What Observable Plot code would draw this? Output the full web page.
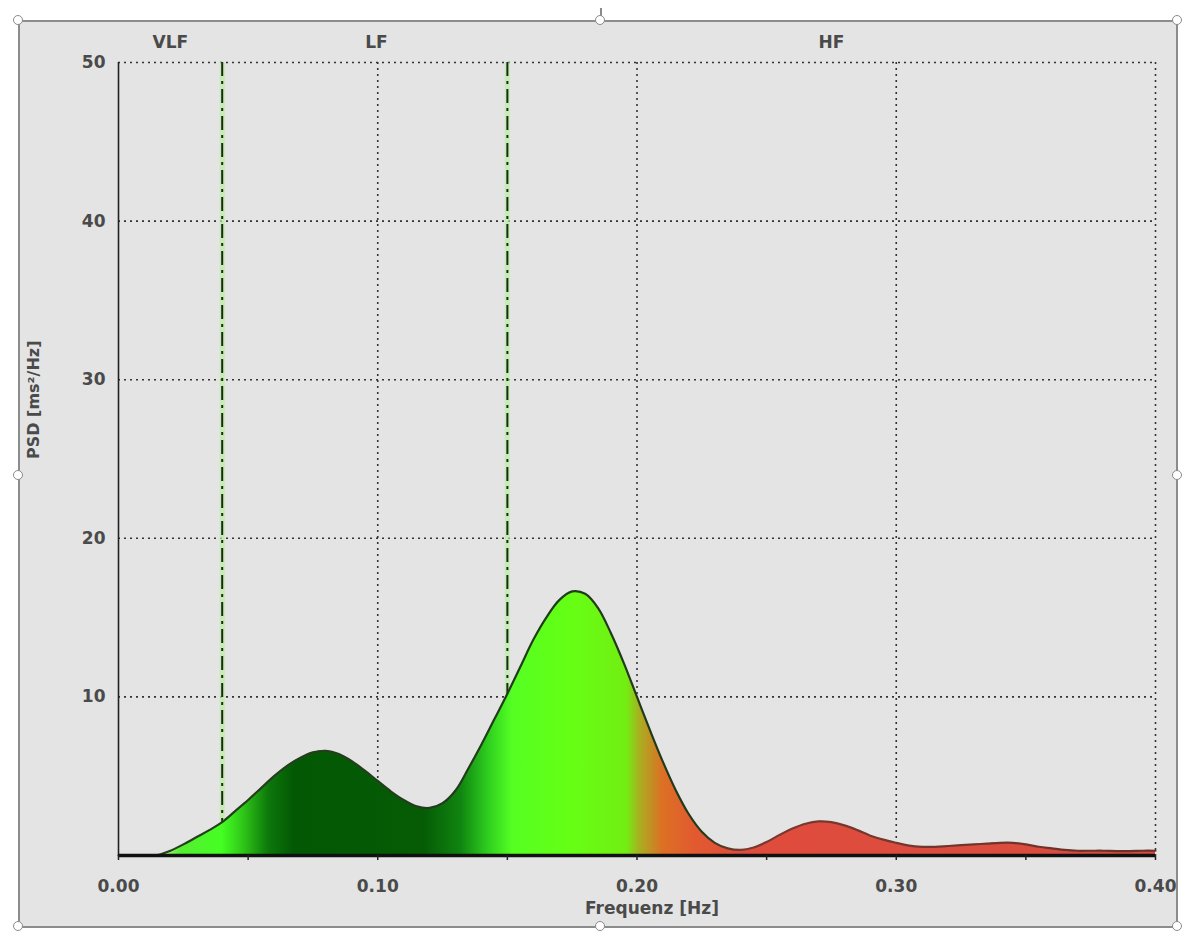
<!DOCTYPE html>
<html><head><meta charset="utf-8">
<script src="https://cdn.jsdelivr.net/npm/d3@7"></script>
<script src="https://cdn.jsdelivr.net/npm/@observablehq/plot@0.6"></script>
<style>
html,body{margin:0;padding:0;background:#fff;width:1186px;height:935px;overflow:hidden;font-family:"DejaVu Sans",sans-serif;}
#frame{position:absolute;left:18px;top:20px;width:1156px;height:904px;background:#e4e4e4;border:2px solid #8c8c8c;}
.h{position:absolute;width:8px;height:8px;border:1.5px solid #8a8a8a;border-radius:50%;background:#fff;}
#rot{position:absolute;left:600px;top:8px;width:1.5px;height:12px;background:#8a8a8a;}
</style></head><body>
<div id="rot"></div>
<div id="frame"></div>
<div class="h" style="left:13px;top:15px"></div>
<div class="h" style="left:595px;top:15px"></div>
<div class="h" style="left:1172px;top:15px"></div>
<div class="h" style="left:13px;top:470px"></div>
<div class="h" style="left:1172px;top:470px"></div>
<div class="h" style="left:13px;top:921px"></div>
<div class="h" style="left:595px;top:921px"></div>
<div class="h" style="left:1172px;top:921px"></div>
<script>
// Frequency (Hz) and power spectral density (ms²/Hz)
const freq = [0,0.005,0.01,0.015,0.02,0.025,0.03,0.035,0.04,0.045,0.05,0.055,0.06,0.065,0.07,0.075,0.08,0.085,0.09,0.095,0.10,0.105,0.11,0.115,0.12,0.125,0.13,0.135,0.14,0.145,0.15,0.155,0.16,0.165,0.17,0.175,0.18,0.185,0.19,0.195,0.20,0.205,0.21,0.215,0.22,0.225,0.23,0.235,0.24,0.245,0.25,0.255,0.26,0.265,0.27,0.275,0.28,0.285,0.29,0.295,0.30,0.305,0.31,0.315,0.32,0.325,0.33,0.335,0.34,0.345,0.35,0.355,0.36,0.365,0.37,0.375,0.38,0.385,0.39,0.395,0.40];
const psd = [0,0,0,0.03,0.3,0.7,1.15,1.6,2.1,2.8,3.5,4.25,5.0,5.65,6.15,6.5,6.6,6.4,5.95,5.35,4.7,4.05,3.5,3.1,3.0,3.3,4.1,5.5,7.0,8.6,10.2,11.9,13.6,15.0,16.1,16.65,16.5,15.6,14.0,12.1,10.0,7.9,5.9,4.1,2.6,1.5,0.8,0.45,0.35,0.5,0.85,1.3,1.7,2.0,2.15,2.1,1.9,1.6,1.25,1.0,0.8,0.62,0.55,0.55,0.6,0.65,0.7,0.75,0.8,0.8,0.7,0.55,0.45,0.35,0.3,0.3,0.3,0.28,0.28,0.3,0.3];

const bandEdges = [0.04, 0.15];
const bandNames = ["VLF", "LF", "HF"];
const bandCenters = [0.02, 0.0995, 0.275];
const xTicksLabeled = [0, 0.1, 0.2, 0.3, 0.4];
const xTicksMinor = [0, 0.05, 0.1, 0.15, 0.2, 0.25, 0.3, 0.35, 0.4];
const yTicks = [10, 20, 30, 40, 50];

const data = freq.map((f, i) => ({f, p: psd[i]}));

// fill gradient stops: [frequency, colour]
const fillStops = [
  [0.000, "#eef2b8"], [0.014, "#d8f0a0"], [0.024, "#55ee33"], [0.040, "#44ff22"],
  [0.048, "#30c818"], [0.058, "#0c780a"], [0.068, "#035803"], [0.118, "#055c05"],
  [0.132, "#108410"], [0.143, "#2fd01f"], [0.152, "#55ff22"], [0.175, "#66ff14"],
  [0.196, "#72ee12"], [0.201, "#a8b020"], [0.210, "#dc7024"], [0.222, "#e25a30"],
  [0.240, "#e04c3c"], [0.400, "#d84c40"]
];
const strokeStops = [
  [0.000, "#27401f"], [0.225, "#1f3a1a"], [0.240, "#7a3a30"], [0.400, "#6a3028"]
];

const txt = "#4a4a4a";
const W = 1156, H = 904;
const chart = Plot.plot({
  width: W, height: H,
  marginLeft: 98, marginRight: 21, marginTop: 40, marginBottom: 71,
  style: {background: "transparent", fontFamily: "DejaVu Sans, sans-serif", fontSize: "17px", color: txt},
  x: {domain: [0, 0.4], axis: null},
  y: {domain: [0, 50], axis: null},
  marks: [
    Plot.ruleY(yTicks, {stroke: "#333", strokeWidth: 1.6, strokeDasharray: "2,4"}),
    Plot.ruleX(xTicksLabeled.slice(1), {stroke: "#333", strokeWidth: 1.6, strokeDasharray: "2,4"}),
    Plot.ruleX(bandEdges, {stroke: "#b8f0a0", strokeWidth: 5, strokeOpacity: 0.7}),
    Plot.ruleX(bandEdges, {stroke: "#1a2a14", strokeWidth: 2, strokeDasharray: "14,5,3,5"}),
    Plot.areaY(data, {x: "f", y: "p", fill: "url(#psdFill)", curve: "catmull-rom"}),
    Plot.lineY(data, {x: "f", y: "p", stroke: "url(#psdStroke)", strokeWidth: 2.2, curve: "catmull-rom"}),
    Plot.ruleX([0], {stroke: "#222", strokeWidth: 1.6}),
    Plot.ruleY([0], {stroke: "#111", strokeWidth: 3.5}),
    Plot.axisX({ticks: xTicksMinor, tickSize: 5, tickFormat: () => "", label: null, stroke: "#222", strokeWidth: 1.5}),
    Plot.axisX({ticks: xTicksLabeled, tickSize: 0, tickPadding: 24, tickFormat: d3.format(".2f"), label: null, fill: txt, fontSize: 17, fontWeight: "bold"}),
    Plot.axisY({ticks: yTicks, tickSize: 0, tickPadding: 13, tickFormat: d => String(d), label: null, fill: txt, fontSize: 17, fontWeight: "bold"}),
    Plot.text(bandNames, {x: (d, i) => bandCenters[i], frameAnchor: "top", dy: -27, text: d => d, fill: txt, fontSize: 17, fontWeight: "bold"}),
    Plot.text(["Frequenz [Hz]"], {frameAnchor: "bottom", dy: 58, dx: 15, text: d => d, fill: txt, fontSize: 17, fontWeight: "bold"}),
    Plot.text(["PSD [ms²/Hz]"], {frameAnchor: "left", dx: -85, rotate: -90, text: d => d, fill: txt, fontSize: 16, fontWeight: "bold"})
  ]
});

const sx = chart.scale("x");
const svg = d3.select(chart);
const defs = svg.insert("defs", ":first-child");
function addGrad(id, stops) {
  const g = defs.append("linearGradient").attr("id", id).attr("gradientUnits", "userSpaceOnUse")
    .attr("x1", sx.apply(0)).attr("x2", sx.apply(0.4)).attr("y1", 0).attr("y2", 0);
  stops.forEach(([f, c]) => g.append("stop").attr("offset", (f / 0.4)).attr("stop-color", c));
}
addGrad("psdFill", fillStops);
addGrad("psdStroke", strokeStops);

chart.style.position = "absolute";
chart.style.left = "0px";
chart.style.top = "0px";
document.getElementById("frame").appendChild(chart);
</script>
</body></html>
